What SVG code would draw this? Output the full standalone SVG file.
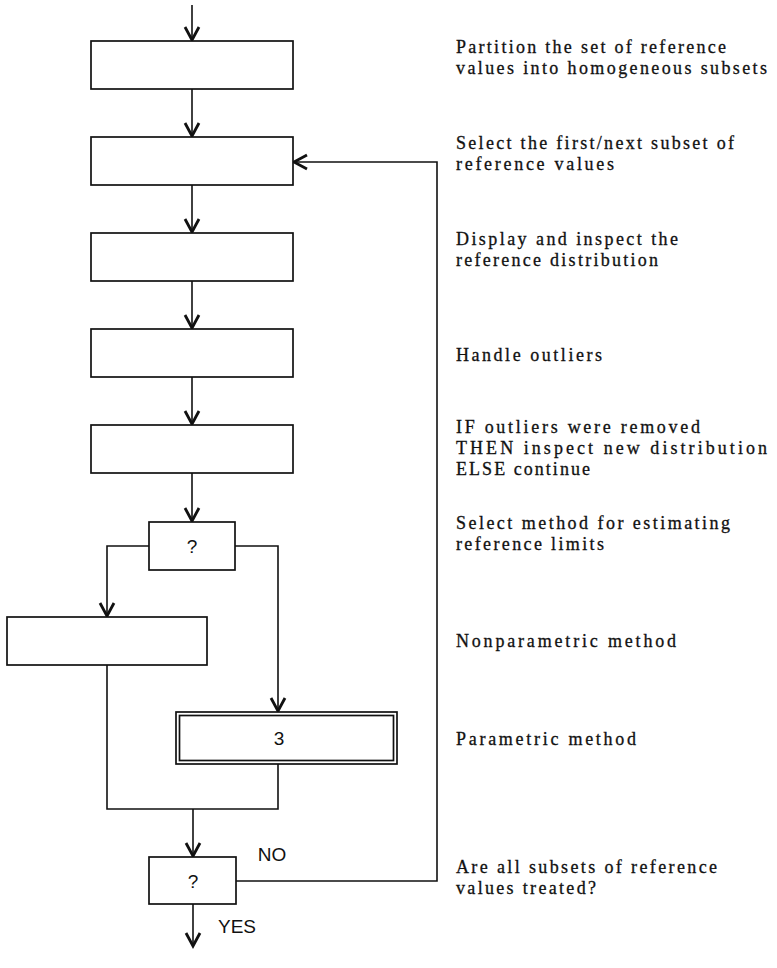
<svg xmlns="http://www.w3.org/2000/svg" width="777" height="968" viewBox="0 0 777 968">
<style>
.box{fill:#fff;stroke:#111;stroke-width:1.7}
.conn{fill:none;stroke:#111;stroke-width:1.6}
.lbl{font-family:"Liberation Serif","Times New Roman",serif;font-size:18px;fill:#111;stroke:#111;stroke-width:0.3}
.sans{font-family:"Liberation Sans",Arial,sans-serif;font-size:19px;fill:#111;text-anchor:middle}
</style>
<defs>
<marker id="arr" markerUnits="userSpaceOnUse" markerWidth="20" markerHeight="20" viewBox="-16 -10 20 20" refX="0" refY="0" orient="auto" overflow="visible">
<path d="M -13 -7 L 0 0 L -13 7" fill="none" stroke="#111" stroke-width="2.8" stroke-linejoin="miter"/>
</marker>
</defs>
<rect width="777" height="968" fill="#fff"/>
<g id="connectors">
<path class="conn" d="M192 5 V40" marker-end="url(#arr)"/>
<path class="conn" d="M192 89 V136" marker-end="url(#arr)"/>
<path class="conn" d="M192 185 V232" marker-end="url(#arr)"/>
<path class="conn" d="M192 281 V328" marker-end="url(#arr)"/>
<path class="conn" d="M192 377 V424" marker-end="url(#arr)"/>
<path class="conn" d="M192 473 V521" marker-end="url(#arr)"/>
<path class="conn" d="M149 546 H107 V616" marker-end="url(#arr)"/>
<path class="conn" d="M235 546 H278 V711" marker-end="url(#arr)"/>
<path class="conn" d="M107 665 V809 H278 V764"/>
<path class="conn" d="M193 809 V856" marker-end="url(#arr)"/>
<path class="conn" d="M236 881 H437 V162 H294" marker-end="url(#arr)"/>
<path class="conn" d="M193 904 V946" marker-end="url(#arr)"/>
</g>
<g id="n1"><rect class="box" x="91" y="41" width="202" height="48"/></g>
<g id="n2"><rect class="box" x="91" y="137" width="202" height="48"/></g>
<g id="n3"><rect class="box" x="91" y="233" width="202" height="48"/></g>
<g id="n4"><rect class="box" x="91" y="329" width="202" height="48"/></g>
<g id="n5"><rect class="box" x="91" y="425" width="202" height="48"/></g>
<g id="n6"><rect class="box" x="149" y="522" width="86" height="48"/><text class="sans" x="192" y="553">?</text></g>
<g id="n7"><rect class="box" x="7" y="617" width="200" height="48"/></g>
<g id="n8"><rect class="box" x="176" y="712" width="221" height="52"/><rect class="box" x="179.5" y="715.5" width="214" height="45"/><text class="sans" x="279" y="745">3</text></g>
<g id="n9"><rect class="box" x="149" y="857" width="87" height="47"/><text class="sans" x="193" y="888">?</text></g>
<g id="edge-labels">
<text class="sans" x="272" y="861">NO</text>
<text class="sans" x="237" y="933">YES</text>
</g>
<g id="descriptions">
<text class="lbl" x="456" y="53" textLength="270" lengthAdjust="spacing">Partition the set of reference</text>
<text class="lbl" x="456" y="74" textLength="311" lengthAdjust="spacing">values into homogeneous subsets</text>
<text class="lbl" x="456" y="149" textLength="278" lengthAdjust="spacing">Select the first/next subset of</text>
<text class="lbl" x="456" y="170" textLength="158" lengthAdjust="spacing">reference values</text>
<text class="lbl" x="456" y="245" textLength="222" lengthAdjust="spacing">Display and inspect the</text>
<text class="lbl" x="456" y="266" textLength="202" lengthAdjust="spacing">reference distribution</text>
<text class="lbl" x="456" y="361" textLength="146" lengthAdjust="spacing">Handle outliers</text>
<text class="lbl" x="456" y="433" textLength="244" lengthAdjust="spacing">IF outliers were removed</text>
<text class="lbl" x="456" y="454" textLength="311" lengthAdjust="spacing">THEN inspect new distribution</text>
<text class="lbl" x="456" y="475" textLength="134" lengthAdjust="spacing">ELSE continue</text>
<text class="lbl" x="456" y="529" textLength="274" lengthAdjust="spacing">Select method for estimating</text>
<text class="lbl" x="456" y="550" textLength="148" lengthAdjust="spacing">reference limits</text>
<text class="lbl" x="456" y="647" textLength="220" lengthAdjust="spacing">Nonparametric method</text>
<text class="lbl" x="456" y="745" textLength="180" lengthAdjust="spacing">Parametric method</text>
<text class="lbl" x="456" y="873" textLength="261" lengthAdjust="spacing">Are all subsets of reference</text>
<text class="lbl" x="456" y="894" textLength="140" lengthAdjust="spacing">values treated?</text>
</g>
</svg>
